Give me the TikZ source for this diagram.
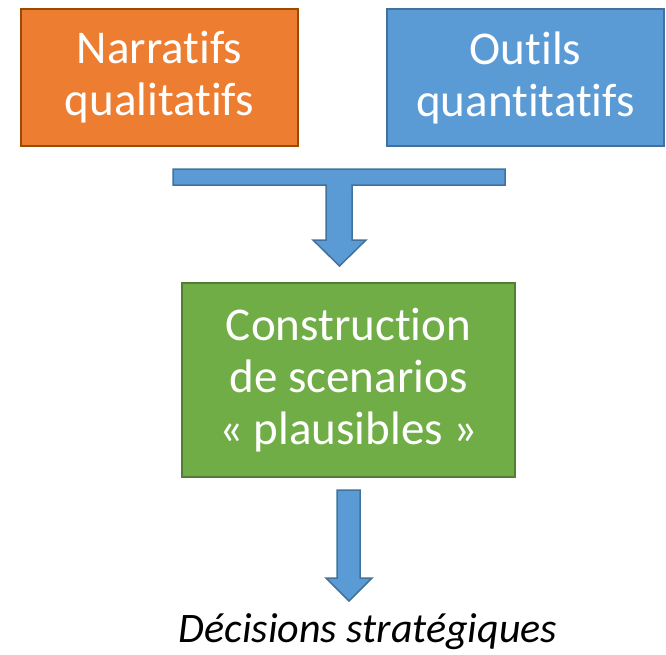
\documentclass[tikz,border=0pt]{standalone}
\usepackage{fontspec}
\setmainfont{Carlito}[Ligatures=NoCommon]
\usetikzlibrary{shapes}

\begin{document}
\begin{tikzpicture}[x=1pt,y=-1pt]
\tikzstyle{qualit}=[rectangle,draw=orange!60!black,fill={rgb,255:red,237;green,125;blue,49},line width=2pt,text=white,minimum width=277pt,minimum height=137pt,inner sep=0pt,align=center,font=\fontsize{47}{52}\selectfont]
\tikzstyle{quantit}=[qualit,draw={rgb,255:red,65;green,113;blue,156},fill={rgb,255:red,91;green,155;blue,213}]
\tikzstyle{scenario}=[qualit,draw={rgb,255:red,80;green,126;blue,50},fill={rgb,255:red,112;green,173;blue,71},minimum width=333pt,minimum height=194pt]
\tikzstyle{blockarrow}=[draw={rgb,255:red,65;green,113;blue,156},fill={rgb,255:red,91;green,155;blue,213},line width=1.5pt,line join=miter]

\useasboundingbox (0,0) rectangle (666,654);

\node[qualit] (narratifs) at (159.5,77.5) {Narratifs\\qualitatifs};
\node[quantit] (outils) at (525.5,77.5) {Outils\\quantitatifs};

%merge arrow.
\draw[blockarrow] (173,169) -- (505,169) -- (505,185) -- (352,185) -- (352,240) -- (366,240)
      -- (339.5,266) -- (313,240) -- (326,240) -- (326,185) -- (173,185) -- cycle;

\node[scenario] (construction) at (348.5,380) {Construction\\de scenarios\\« plausibles »};

%output arrow.
\draw[blockarrow] (337,490) -- (360,490) -- (360,578) -- (372,578) -- (349,601) -- (326,578) -- (337,578) -- cycle;

\node[anchor=base,inner sep=0pt,font=\fontsize{42}{49}\selectfont\itshape] (decisions) at (368,642) {Décisions stratégiques};

\end{tikzpicture}
\end{document}
